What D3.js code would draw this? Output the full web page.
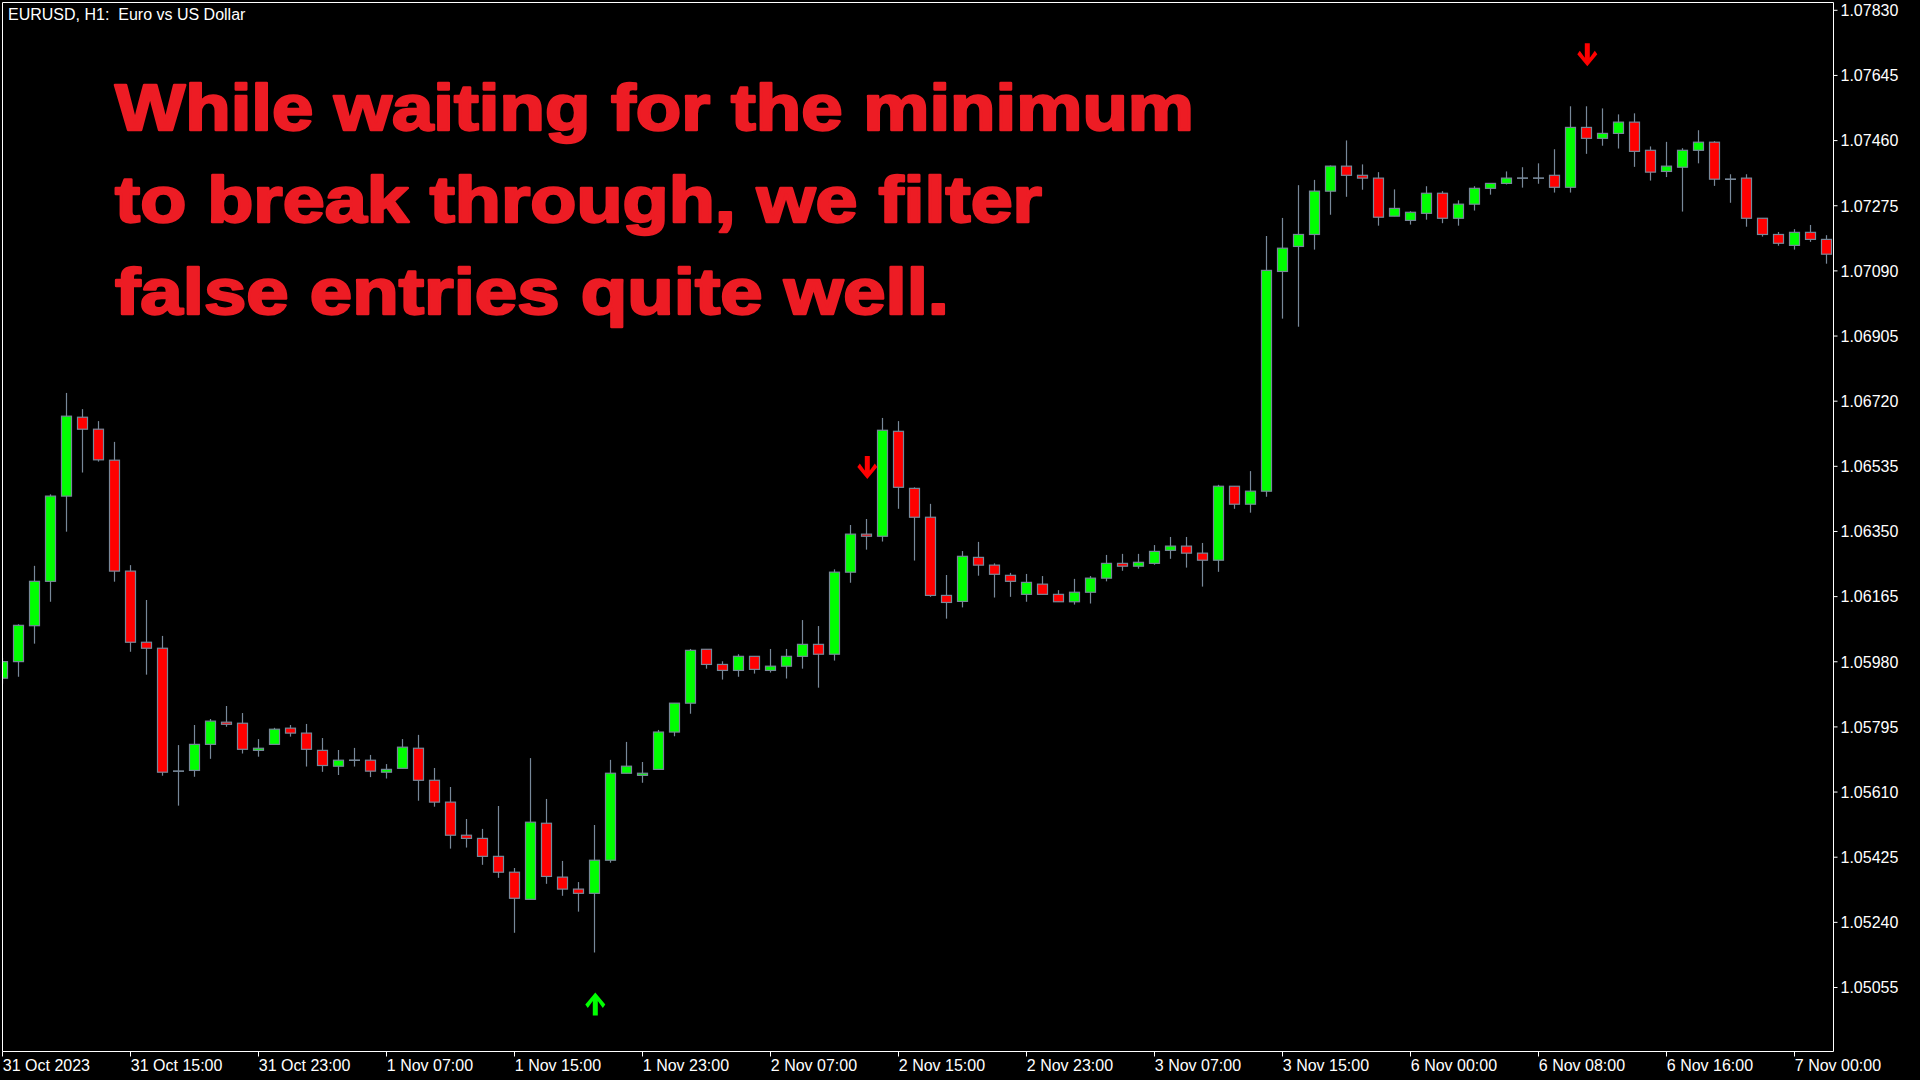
<!DOCTYPE html>
<html>
<head>
<meta charset="utf-8">
<script src="https://cdn.jsdelivr.net/npm/d3@7"></script>
<style>
html, body { margin: 0; padding: 0; background: #000; }
svg { display: block; }
.axis text { font-family: "Liberation Sans", Arial, sans-serif; font-size: 16px; fill: #fff; }
.axis line { stroke: #fff; }
.axis path { display: none; }
</style>
</head>
<body>
<svg id="chart" width="1920" height="1080"></svg>
<script>
// EURUSD H1, 31 Oct 07:00 .. 7 Nov 02:00
var opens = [
	1.05932, 1.05979, 1.06081, 1.06207, 1.06449, 1.06673, 1.06639, 1.06551, 1.06236, 1.06034,
	1.06017, 1.05668, 1.05670, 1.05744, 1.05807, 1.05804, 1.05727, 1.05744, 1.05790, 1.05776,
	1.05727, 1.05682, 1.05699, 1.05699, 1.05665, 1.05676, 1.05733, 1.05642, 1.05580, 1.05486,
	1.05477, 1.05426, 1.05381, 1.05304, 1.05520, 1.05367, 1.05333, 1.05321, 1.05415, 1.05662,
	1.05656, 1.05673, 1.05779, 1.05861, 1.06014, 1.05971, 1.05954, 1.05994, 1.05954, 1.05966,
	1.05994, 1.06028, 1.06000, 1.06233, 1.06341, 1.06335, 1.06633, 1.06471, 1.06389, 1.06167,
	1.06150, 1.06275, 1.06253, 1.06224, 1.06170, 1.06199, 1.06170, 1.06149, 1.06176, 1.06216,
	1.06258, 1.06250, 1.06258, 1.06295, 1.06307, 1.06287, 1.06267, 1.06477, 1.06426, 1.06463,
	1.07087, 1.07158, 1.07192, 1.07315, 1.07386, 1.07360, 1.07352, 1.07244, 1.07232, 1.07252,
	1.07309, 1.07238, 1.07278, 1.07323, 1.07337, 1.07352, 1.07352, 1.07360, 1.07326, 1.07496,
	1.07465, 1.07479, 1.07511, 1.07431, 1.07371, 1.07383, 1.07431, 1.07454, 1.07349, 1.07352,
	1.07238, 1.07192, 1.07161, 1.07198, 1.07178]
var highs = [
	1.05989, 1.06085, 1.06251, 1.06454, 1.06742, 1.06696, 1.06662, 1.06603, 1.06253, 1.06154,
	1.06052, 1.05742, 1.05799, 1.05816, 1.05853, 1.05833, 1.05759, 1.05791, 1.05799, 1.05802,
	1.05762, 1.05728, 1.05734, 1.05714, 1.05688, 1.05759, 1.05771, 1.05677, 1.05623, 1.05532,
	1.05504, 1.05569, 1.05393, 1.05705, 1.05589, 1.05413, 1.05353, 1.05515, 1.05700, 1.05751,
	1.05694, 1.05785, 1.05861, 1.06015, 1.06014, 1.05980, 1.06000, 1.05994, 1.06015, 1.06015,
	1.06097, 1.06080, 1.06241, 1.06367, 1.06384, 1.06671, 1.06662, 1.06474, 1.06427, 1.06225,
	1.06293, 1.06319, 1.06258, 1.06231, 1.06228, 1.06222, 1.06182, 1.06214, 1.06222, 1.06282,
	1.06285, 1.06285, 1.06310, 1.06333, 1.06333, 1.06316, 1.06481, 1.06477, 1.06520, 1.07188,
	1.07239, 1.07332, 1.07347, 1.07388, 1.07459, 1.07391, 1.07369, 1.07320, 1.07258, 1.07329,
	1.07315, 1.07289, 1.07329, 1.07337, 1.07371, 1.07383, 1.07394, 1.07434, 1.07556, 1.07556,
	1.07550, 1.07533, 1.07536, 1.07442, 1.07455, 1.07437, 1.07488, 1.07457, 1.07363, 1.07363,
	1.07238, 1.07199, 1.07207, 1.07219, 1.07190]
var lows = [
	1.05916, 1.05936, 1.06030, 1.06149, 1.06348, 1.06516, 1.06547, 1.06206, 1.06007, 1.05942,
	1.05655, 1.05570, 1.05652, 1.05703, 1.05794, 1.05718, 1.05709, 1.05744, 1.05766, 1.05681,
	1.05666, 1.05657, 1.05681, 1.05651, 1.05647, 1.05676, 1.05584, 1.05567, 1.05448, 1.05451,
	1.05402, 1.05365, 1.05209, 1.05304, 1.05348, 1.05314, 1.05269, 1.05153, 1.05408, 1.05662,
	1.05635, 1.05673, 1.05767, 1.05831, 1.05959, 1.05928, 1.05936, 1.05945, 1.05948, 1.05931,
	1.05959, 1.05905, 1.05982, 1.06203, 1.06297, 1.06320, 1.06413, 1.06266, 1.06163, 1.06101,
	1.06133, 1.06223, 1.06161, 1.06163, 1.06149, 1.06170, 1.06149, 1.06141, 1.06144, 1.06207,
	1.06237, 1.06243, 1.06254, 1.06271, 1.06246, 1.06192, 1.06234, 1.06413, 1.06402, 1.06447,
	1.06953, 1.06930, 1.07149, 1.07248, 1.07299, 1.07319, 1.07217, 1.07244, 1.07220, 1.07234,
	1.07224, 1.07217, 1.07260, 1.07305, 1.07334, 1.07325, 1.07336, 1.07311, 1.07311, 1.07421,
	1.07444, 1.07436, 1.07384, 1.07345, 1.07355, 1.07257, 1.07394, 1.07330, 1.07282, 1.07214,
	1.07186, 1.07160, 1.07149, 1.07171, 1.07109]
var closes = [
	1.05979, 1.06082, 1.06207, 1.06449, 1.06676, 1.06639, 1.06552, 1.06236, 1.06034, 1.06017,
	1.05665, 1.05668, 1.05744, 1.05810, 1.05801, 1.05730, 1.05733, 1.05787, 1.05776, 1.05730,
	1.05684, 1.05699, 1.05699, 1.05668, 1.05673, 1.05736, 1.05642, 1.05580, 1.05486, 1.05477,
	1.05426, 1.05381, 1.05307, 1.05523, 1.05369, 1.05333, 1.05321, 1.05415, 1.05662, 1.05682,
	1.05662, 1.05779, 1.05861, 1.06011, 1.05971, 1.05954, 1.05994, 1.05957, 1.05966, 1.05994,
	1.06028, 1.06000, 1.06233, 1.06341, 1.06335, 1.06636, 1.06474, 1.06389, 1.06167, 1.06147,
	1.06278, 1.06253, 1.06227, 1.06207, 1.06204, 1.06170, 1.06149, 1.06176, 1.06216, 1.06258,
	1.06250, 1.06261, 1.06292, 1.06307, 1.06287, 1.06267, 1.06477, 1.06426, 1.06463, 1.07090,
	1.07153, 1.07192, 1.07315, 1.07386, 1.07360, 1.07352, 1.07241, 1.07266, 1.07255, 1.07309,
	1.07238, 1.07278, 1.07323, 1.07337, 1.07352, 1.07352, 1.07352, 1.07326, 1.07496, 1.07465,
	1.07479, 1.07511, 1.07428, 1.07369, 1.07386, 1.07431, 1.07454, 1.07349, 1.07349, 1.07238,
	1.07192, 1.07167, 1.07198, 1.07178, 1.07136]
var timeLabels = ['31 Oct 2023', '31 Oct 15:00', '31 Oct 23:00', '1 Nov 07:00', '1 Nov 15:00',
	'1 Nov 23:00', '2 Nov 07:00', '2 Nov 15:00', '2 Nov 23:00', '3 Nov 07:00', '3 Nov 15:00',
	'6 Nov 00:00', '6 Nov 08:00', '6 Nov 16:00', '7 Nov 00:00']
var priceTicks = [1.05055, 1.05240, 1.05425, 1.05610, 1.05795, 1.05980, 1.06165, 1.06350,
	1.06535, 1.06720, 1.06905, 1.07090, 1.07275, 1.07460, 1.07645, 1.07830]
var buySignals = [37]
var sellSignals = [54, 99]
var headline = ['While waiting for the minimum', 'to break through, we filter', 'false entries quite well.']
var symbolTitle = 'EURUSD, H1:  Euro vs US Dollar'

var svg = d3.select('#chart')
var frameL = 2, frameT = 2, frameR = 1833, frameB = 1051
var bull = '#00ff00', bear = '#ff0000', wick = '#778899'
// widths of the heavy caption lines in the screenshot
var headWidths = [1079, 927, 834]

var x = d3.scaleLinear().domain([0, opens.length - 1]).range([2.3, 2.3 + 16 * (opens.length - 1)])
var y = d3.scaleLinear().domain([priceTicks[0], priceTicks[priceTicks.length - 1]]).range([987, 9.8])

svg.append('rect').attr('width', 1920).attr('height', 1080).attr('fill', '#000')

svg.append('clipPath').attr('id', 'plotClip')
	.append('rect').attr('x', frameL).attr('y', frameT)
	.attr('width', frameR - frameL).attr('height', frameB - frameT)

var plot = svg.append('g').attr('clip-path', 'url(#plotClip)')

var candles = plot.selectAll('.candle')
	.data(d3.range(opens.length))
	.join('g')
	.attr('class', 'candle')
	.attr('transform', function (i) { return 'translate(' + (Math.round(x(i)) + 0.5) + ',0)' })

candles.append('line')
	.attr('y1', function (i) { return y(highs[i]) })
	.attr('y2', function (i) { return y(lows[i]) })
	.attr('stroke', wick)
	.attr('stroke-width', 1.2)

candles.filter(function (i) { return opens[i] != closes[i] })
	.append('rect')
	.attr('x', -5)
	.attr('width', 10)
	.attr('y', function (i) { return y(Math.max(opens[i], closes[i])) })
	.attr('height', function (i) { return Math.max(1, Math.abs(y(opens[i]) - y(closes[i]))) })
	.attr('fill', function (i) { return closes[i] > opens[i] ? bull : bear })
	.attr('stroke', wick)
	.attr('stroke-width', 1.2)

// open == close: plain dash
candles.filter(function (i) { return opens[i] == closes[i] })
	.append('line')
	.attr('x1', -5.5).attr('x2', 5.5)
	.attr('y1', function (i) { return y(opens[i]) })
	.attr('y2', function (i) { return y(opens[i]) })
	.attr('stroke', wick)
	.attr('stroke-width', 1.6)

// signal arrows, tip 40px away from the bar extreme
var downArrow = 'M-2.5,-23L2.5,-23L2.5,-8.5L7.5,-15.5L10,-12L0,0L-10,-12L-7.5,-15.5L-2.5,-8.5Z'
plot.selectAll('.sell')
	.data(sellSignals)
	.join('path')
	.attr('class', 'sell')
	.attr('d', downArrow)
	.attr('fill', bear)
	.attr('transform', function (i) { return 'translate(' + (x(i) + 1) + ',' + (y(highs[i]) - 40) + ')' })
plot.selectAll('.buy')
	.data(buySignals)
	.join('path')
	.attr('class', 'buy')
	.attr('d', downArrow)
	.attr('fill', bull)
	.attr('transform', function (i) { return 'translate(' + (x(i) + 1) + ',' + (y(lows[i]) + 40) + ') scale(1,-1)' })

// headline
var head = svg.append('g')
head.selectAll('text')
	.data(headline)
	.join('text')
	.attr('x', 115)
	.attr('y', function (d, i) { return 130 + 92 * i })
	.attr('textLength', function (d, i) { return headWidths[i] })
	.attr('lengthAdjust', 'spacingAndGlyphs')
	.text(function (d) { return d })
	.attr('font-family', '"Liberation Sans", Arial, sans-serif')
	.attr('font-weight', 'bold')
	.attr('font-size', 65)
	.attr('fill', '#ed1c24')
	.attr('stroke', '#ed1c24')
	.attr('stroke-width', 2.4)
	.attr('stroke-linejoin', 'round')

// axes
var yAxis = svg.append('g')
	.attr('class', 'axis')
	.attr('transform', 'translate(' + (frameR + 0.5) + ',0)')
	.call(d3.axisRight(y).tickValues(priceTicks).tickSize(4).tickPadding(3)
		.tickFormat(function (d) { return d.toFixed(5) }))
yAxis.selectAll('text').attr('dy', '0.36em')

var xAxis = svg.append('g')
	.attr('class', 'axis')
	.attr('transform', 'translate(0,' + (frameB + 0.5) + ')')
	.call(d3.axisBottom(x).tickValues(d3.range(0, opens.length, 8)).tickSize(5)
		.tickFormat(function (d) { return timeLabels[d / 8] }))
xAxis.selectAll('.tick line').attr('transform', 'translate(-0.3,0)')
xAxis.selectAll('text')
	.attr('text-anchor', 'start')
	.attr('x', 0)
	.attr('y', 19)
	.attr('dy', 0)

// chart frame
svg.append('path')
	.attr('d', 'M' + (frameL + 0.5) + ',' + (frameB + 0.5) + 'V' + (frameT + 0.5) + 'H' + (frameR + 0.5) + 'V' + (frameB + 0.5) + 'H' + (frameL + 0.5))
	.attr('fill', 'none')
	.attr('stroke', '#fff')
	.attr('stroke-width', 1)

svg.append('text')
	.attr('x', 8)
	.attr('y', 20)
	.attr('font-family', '"Liberation Sans", Arial, sans-serif')
	.attr('font-size', 16)
	.attr('fill', '#fff')
	.style('white-space', 'pre')
	.text(symbolTitle)
</script>
</body>
</html>
